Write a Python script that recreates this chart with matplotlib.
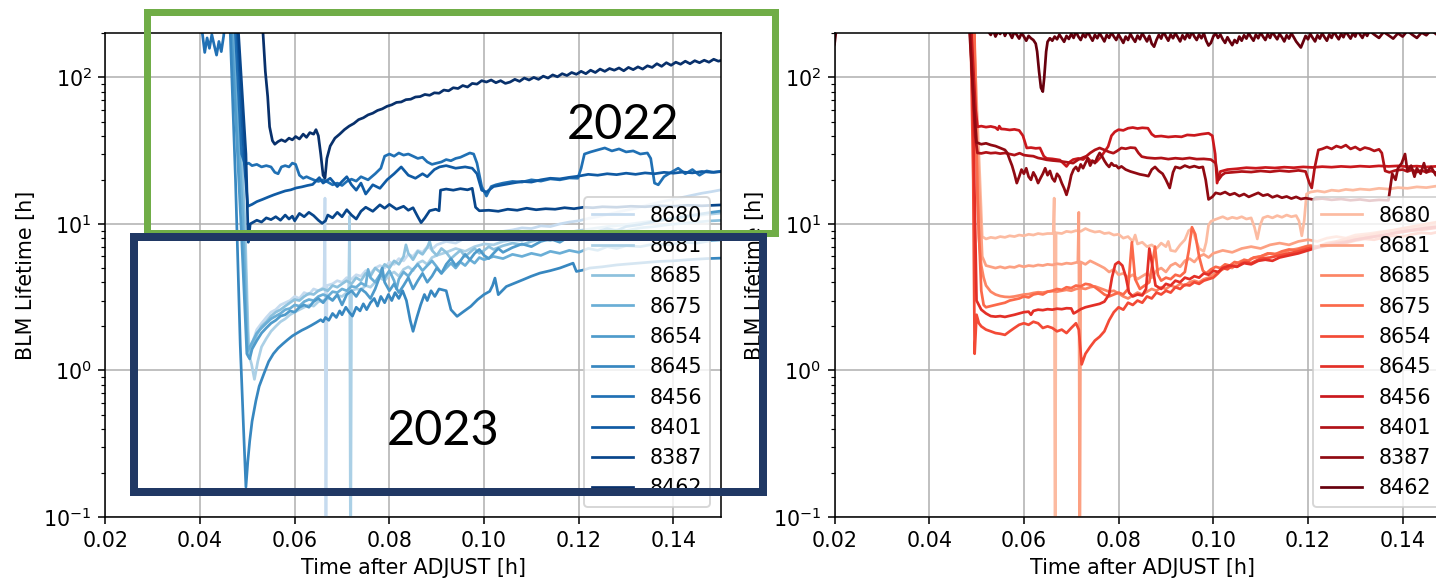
import matplotlib
matplotlib.use("Agg")
import matplotlib.pyplot as plt
import numpy as np
from matplotlib.patches import Rectangle

# Fill numbers, in legend order (light -> dark)
fills = ["8680", "8681", "8685", "8675", "8654", "8645", "8456", "8401", "8387", "8462"]
x_ticks = [0.02, 0.04, 0.06, 0.08, 0.10, 0.12, 0.14]

# ---------------- left monitor: (time after ADJUST [h], BLM lifetime [h]) ----------------
blue_8680 = [(0.0470, 300), (0.0490, 20), (0.0500, 2.0), (0.0505, 1.4), (0.0512, 1.6), (0.0520, 1.9), (0.0530, 2.1), (0.0540, 2.3), (0.0550, 2.5), (0.0560, 2.6), (0.0570, 2.8), (0.0580, 2.9), (0.0590, 3.0), (0.0600, 3.2), (0.0610, 3.1), (0.0620, 3.4), (0.0630, 3.3), (0.0640, 3.6), (0.0650, 3.5), (0.0662, 3.7), (0.0664, 15), (0.0666, 0.03), (0.0668, 3.8), (0.0680, 3.9), (0.0690, 4.1), (0.0700, 4.0), (0.0710, 4.3), (0.0720, 4.2), (0.0730, 4.5), (0.0740, 4.4), (0.0750, 4.8), (0.0760, 4.6), (0.0770, 5.0), (0.0780, 5.2), (0.0790, 5.0), (0.0800, 5.5), (0.0810, 5.3), (0.0820, 5.8), (0.0830, 5.6), (0.0840, 6.2), (0.0850, 6.0), (0.0860, 6.6), (0.0870, 6.4), (0.0880, 7.0), (0.0890, 6.7), (0.0900, 7.2), (0.0920, 7.6), (0.0940, 7.4), (0.0960, 8.0), (0.0980, 7.8), (0.1000, 8.4), (0.1020, 8.6), (0.1040, 8.9), (0.1060, 9.1), (0.1080, 9.4), (0.1100, 9.3), (0.1120, 9.7), (0.1140, 9.6), (0.1160, 10.0), (0.1180, 10.3), (0.1200, 10.5), (0.1220, 10.9), (0.1240, 11.2), (0.1260, 11.6), (0.1280, 12.0), (0.1300, 12.4), (0.1320, 12.8), (0.1340, 13.3), (0.1360, 13.8), (0.1380, 14.3), (0.1400, 14.7), (0.1420, 15.2), (0.1440, 15.7), (0.1460, 16.2), (0.1480, 16.6), (0.1505, 17.2)]
blue_8681 = [(0.0472, 300), (0.0495, 10), (0.0503, 1.3), (0.0509, 1.1), (0.0515, 0.87), (0.0522, 1.15), (0.0530, 1.45), (0.0540, 1.65), (0.0550, 1.85), (0.0560, 2.0), (0.0570, 2.15), (0.0580, 2.25), (0.0590, 2.4), (0.0600, 2.5), (0.0610, 2.6), (0.0620, 2.7), (0.0630, 2.8), (0.0640, 2.75), (0.0650, 2.95), (0.0660, 3.0), (0.0670, 3.1), (0.0680, 3.05), (0.0690, 3.25), (0.0700, 3.2), (0.0710, 3.4), (0.0714, 3.4), (0.0716, 11.3), (0.0718, 0.03), (0.0720, 3.5), (0.0730, 3.6), (0.0740, 3.55), (0.0750, 3.8), (0.0760, 3.7), (0.0770, 4.0), (0.0780, 4.3), (0.0790, 4.1), (0.0800, 4.5), (0.0810, 4.7), (0.0820, 4.4), (0.0830, 4.9), (0.0840, 5.1), (0.0850, 4.8), (0.0860, 5.4), (0.0870, 5.6), (0.0880, 5.3), (0.0890, 5.9), (0.0900, 6.1), (0.0920, 6.4), (0.0940, 6.8), (0.0960, 6.5), (0.0980, 7.0), (0.1000, 7.3), (0.1020, 7.2), (0.1040, 7.6), (0.1060, 7.8), (0.1080, 7.7), (0.1100, 8.1), (0.1120, 8.3), (0.1140, 8.2), (0.1160, 8.6), (0.1180, 8.8), (0.1200, 9.0), (0.1230, 9.3), (0.1260, 9.6), (0.1290, 9.8), (0.1320, 10.1), (0.1350, 10.4), (0.1380, 10.7), (0.1410, 11.0), (0.1440, 11.3), (0.1470, 11.6), (0.1505, 11.9)]
blue_8685 = [(0.0468, 300), (0.0492, 15), (0.0502, 1.25), (0.0510, 1.45), (0.0520, 1.75), (0.0530, 2.0), (0.0540, 2.15), (0.0550, 2.35), (0.0560, 2.5), (0.0570, 2.6), (0.0580, 2.75), (0.0590, 2.9), (0.0600, 3.05), (0.0610, 3.0), (0.0620, 3.2), (0.0630, 3.35), (0.0640, 3.3), (0.0650, 3.5), (0.0660, 3.6), (0.0670, 3.5), (0.0680, 3.8), (0.0690, 3.7), (0.0700, 3.9), (0.0710, 4.1), (0.0720, 3.9), (0.0730, 4.3), (0.0740, 4.1), (0.0750, 4.6), (0.0760, 4.4), (0.0770, 5.0), (0.0780, 4.7), (0.0790, 5.3), (0.0800, 5.0), (0.0810, 5.6), (0.0820, 5.3), (0.0830, 6.0), (0.0835, 7.2), (0.0840, 6.3), (0.0850, 5.7), (0.0860, 6.5), (0.0870, 6.2), (0.0880, 6.9), (0.0885, 7.6), (0.0890, 6.6), (0.0900, 6.1), (0.0910, 6.8), (0.0920, 6.4), (0.0930, 5.8), (0.0940, 6.2), (0.0950, 6.6), (0.0960, 6.0), (0.0970, 6.4), (0.0980, 6.8), (0.0990, 6.3), (0.1000, 6.6), (0.1010, 7.0), (0.1020, 6.7), (0.1040, 7.1), (0.1060, 7.4), (0.1080, 7.2), (0.1100, 7.6), (0.1120, 7.9), (0.1140, 7.7), (0.1160, 8.1), (0.1180, 8.0), (0.1200, 8.4), (0.1220, 8.7), (0.1240, 8.5), (0.1260, 8.9), (0.1280, 9.1), (0.1300, 9.0), (0.1330, 9.4), (0.1360, 9.6), (0.1390, 9.9), (0.1420, 10.1), (0.1450, 10.3), (0.1480, 10.5), (0.1505, 10.6)]
blue_8675 = [(0.0466, 300), (0.0490, 12), (0.0500, 1.35), (0.0510, 1.55), (0.0520, 1.8), (0.0530, 1.95), (0.0540, 2.1), (0.0550, 2.25), (0.0560, 2.35), (0.0570, 2.45), (0.0580, 2.6), (0.0590, 2.65), (0.0600, 2.8), (0.0610, 2.75), (0.0620, 2.95), (0.0630, 3.05), (0.0640, 3.0), (0.0650, 3.2), (0.0660, 3.3), (0.0670, 3.2), (0.0680, 3.45), (0.0690, 3.4), (0.0700, 3.6), (0.0710, 3.5), (0.0720, 3.75), (0.0730, 3.7), (0.0740, 3.95), (0.0750, 3.8), (0.0755, 4.9), (0.0760, 4.3), (0.0770, 4.0), (0.0780, 4.5), (0.0790, 4.3), (0.0800, 4.8), (0.0810, 4.1), (0.0815, 3.6), (0.0820, 4.2), (0.0830, 4.7), (0.0840, 4.4), (0.0850, 4.9), (0.0860, 5.3), (0.0870, 4.8), (0.0880, 5.2), (0.0890, 5.6), (0.0900, 5.1), (0.0910, 4.6), (0.0920, 5.0), (0.0930, 5.4), (0.0940, 5.0), (0.0950, 5.5), (0.0960, 5.2), (0.0970, 5.7), (0.0980, 5.4), (0.0990, 5.9), (0.1000, 5.7), (0.1020, 6.0), (0.1040, 5.8), (0.1060, 6.2), (0.1080, 6.0), (0.1100, 6.3), (0.1120, 6.1), (0.1140, 6.5), (0.1160, 6.3), (0.1180, 6.6), (0.1200, 6.4), (0.1220, 6.8), (0.1240, 6.6), (0.1260, 7.0), (0.1280, 6.8), (0.1300, 7.1), (0.1330, 7.0), (0.1360, 7.3), (0.1390, 7.2), (0.1420, 7.5), (0.1450, 7.4), (0.1480, 7.7), (0.1505, 7.8)]
blue_8654 = [(0.0464, 300), (0.0488, 8), (0.0499, 1.3), (0.0505, 1.2), (0.0510, 1.4), (0.0520, 1.6), (0.0530, 1.8), (0.0540, 1.95), (0.0550, 2.1), (0.0560, 2.2), (0.0570, 2.35), (0.0580, 2.4), (0.0590, 2.55), (0.0600, 2.5), (0.0610, 2.7), (0.0620, 2.8), (0.0630, 2.7), (0.0640, 2.95), (0.0650, 3.1), (0.0660, 2.9), (0.0670, 3.2), (0.0680, 3.0), (0.0690, 3.3), (0.0700, 2.8), (0.0710, 3.3), (0.0720, 3.5), (0.0730, 3.2), (0.0740, 3.6), (0.0750, 3.4), (0.0760, 3.1), (0.0770, 3.6), (0.0780, 4.4), (0.0785, 5.0), (0.0790, 4.0), (0.0800, 3.5), (0.0810, 3.9), (0.0820, 3.4), (0.0830, 3.8), (0.0840, 4.3), (0.0850, 3.6), (0.0860, 4.1), (0.0870, 4.6), (0.0880, 4.0), (0.0890, 4.4), (0.0900, 5.0), (0.0910, 4.6), (0.0920, 5.3), (0.0930, 5.8), (0.0940, 5.2), (0.0950, 5.6), (0.0960, 6.2), (0.0970, 5.7), (0.0980, 6.3), (0.0990, 6.7), (0.1000, 6.1), (0.1010, 5.8), (0.1020, 6.3), (0.1030, 6.8), (0.1040, 6.4), (0.1060, 6.9), (0.1080, 7.3), (0.1100, 7.0), (0.1120, 7.6), (0.1140, 7.9), (0.1160, 7.5), (0.1180, 8.2), (0.1200, 8.6), (0.1220, 8.3), (0.1240, 8.9), (0.1260, 9.3), (0.1280, 9.0), (0.1300, 9.6), (0.1330, 9.9), (0.1360, 10.4), (0.1390, 10.8), (0.1420, 11.2), (0.1450, 11.6), (0.1480, 12.0), (0.1505, 12.3)]
blue_8645 = [(0.0462, 300), (0.0475, 20), (0.0485, 1.5), (0.0492, 0.4), (0.0497, 0.16), (0.0501, 0.24), (0.0505, 0.33), (0.0510, 0.45), (0.0518, 0.62), (0.0525, 0.78), (0.0535, 0.95), (0.0545, 1.15), (0.0555, 1.3), (0.0565, 1.42), (0.0575, 1.52), (0.0585, 1.62), (0.0595, 1.72), (0.0605, 1.8), (0.0615, 1.88), (0.0625, 1.95), (0.0635, 2.03), (0.0645, 2.12), (0.0655, 2.22), (0.0660, 2.15), (0.0665, 2.3), (0.0672, 2.2), (0.0680, 2.45), (0.0688, 2.3), (0.0695, 2.55), (0.0700, 2.4), (0.0708, 2.7), (0.0715, 2.5), (0.0722, 2.35), (0.0730, 2.7), (0.0738, 2.55), (0.0745, 2.85), (0.0752, 2.6), (0.0760, 2.9), (0.0768, 3.1), (0.0775, 2.75), (0.0782, 3.2), (0.0790, 2.9), (0.0798, 3.3), (0.0805, 3.0), (0.0812, 3.4), (0.0820, 3.1), (0.0828, 3.5), (0.0836, 3.0), (0.0844, 2.2), (0.0850, 1.85), (0.0858, 2.3), (0.0866, 2.8), (0.0874, 3.3), (0.0880, 3.0), (0.0888, 3.5), (0.0896, 3.2), (0.0905, 3.6), (0.0920, 3.5), (0.0930, 2.6), (0.0943, 2.34), (0.0955, 2.5), (0.0972, 2.74), (0.0986, 3.04), (0.1000, 3.3), (0.1012, 3.47), (0.1018, 3.8), (0.1023, 4.27), (0.1030, 3.29), (0.1047, 3.74), (0.1065, 3.95), (0.1082, 4.16), (0.1100, 4.4), (0.1118, 4.62), (0.1140, 4.8), (0.1160, 5.0), (0.1188, 5.4), (0.1195, 4.74), (0.1210, 4.85), (0.1223, 5.0), (0.1250, 5.1), (0.1280, 5.25), (0.1310, 5.35), (0.1340, 5.45), (0.1370, 5.55), (0.1400, 5.6), (0.1430, 5.7), (0.1470, 5.8), (0.1505, 5.85)]
blue_8456 = [(0.0400, 300), (0.0405, 200), (0.0410, 148), (0.0415, 186), (0.0420, 158), (0.0425, 196), (0.0430, 166), (0.0435, 142), (0.0440, 176), (0.0445, 150), (0.0450, 192), (0.0455, 300), (0.0472, 300), (0.0488, 30), (0.0495, 25.5), (0.0503, 26), (0.0510, 25), (0.0520, 25.5), (0.0530, 24.5), (0.0540, 25), (0.0550, 24.5), (0.0558, 22.5), (0.0565, 22), (0.0572, 24.5), (0.0580, 25), (0.0588, 24.5), (0.0595, 26), (0.0602, 25.5), (0.0610, 21.5), (0.0618, 20.5), (0.0625, 21), (0.0632, 20.5), (0.0640, 20), (0.0650, 19.5), (0.0660, 20), (0.0670, 19.3), (0.0680, 18.5), (0.0690, 19), (0.0700, 18.3), (0.0710, 19.5), (0.0720, 20.2), (0.0730, 19.6), (0.0740, 21), (0.0755, 20), (0.0770, 22), (0.0782, 24), (0.0790, 29), (0.0800, 30), (0.0810, 29), (0.0820, 30.5), (0.0830, 29.5), (0.0840, 30), (0.0850, 29), (0.0860, 28), (0.0870, 28.5), (0.0880, 26.5), (0.0890, 25.5), (0.0900, 26), (0.0910, 26.5), (0.0920, 27.5), (0.0930, 27), (0.0940, 28), (0.0950, 28.5), (0.0960, 29.5), (0.0970, 30.5), (0.0978, 30), (0.0985, 26), (0.0995, 18), (0.1005, 15.5), (0.1015, 18), (0.1025, 18.5), (0.1040, 19), (0.1060, 19.5), (0.1080, 19.3), (0.1100, 20), (0.1120, 19.6), (0.1140, 20.3), (0.1160, 20), (0.1180, 20.6), (0.1198, 20.5), (0.1205, 24), (0.1212, 30), (0.1225, 31), (0.1240, 32), (0.1255, 33), (0.1270, 31.5), (0.1285, 32.5), (0.1300, 31), (0.1315, 31.5), (0.1330, 30), (0.1345, 30.5), (0.1352, 28), (0.1360, 19), (0.1368, 18.5), (0.1380, 21), (0.1395, 22.5), (0.1410, 24), (0.1425, 22), (0.1440, 23.5), (0.1455, 21.5), (0.1470, 23), (0.1485, 22.5), (0.1505, 23)]
blue_8401 = [(0.0476, 300), (0.0494, 25), (0.0501, 13.2), (0.0510, 13.6), (0.0520, 14.2), (0.0532, 14.7), (0.0545, 15.3), (0.0556, 15.8), (0.0568, 16.3), (0.0580, 16.8), (0.0592, 17.1), (0.0603, 17.6), (0.0615, 17.9), (0.0627, 18.3), (0.0638, 18.6), (0.0646, 19.8), (0.0652, 20.7), (0.0660, 19), (0.0675, 20.5), (0.0690, 18), (0.0700, 19.5), (0.0710, 21), (0.0720, 18.5), (0.0730, 17), (0.0740, 19), (0.0750, 16), (0.0765, 18.5), (0.0780, 17.5), (0.0795, 20), (0.0810, 22), (0.0825, 24.5), (0.0840, 21.5), (0.0855, 20.5), (0.0870, 22), (0.0880, 21), (0.0895, 23.5), (0.0906, 24.5), (0.0920, 25), (0.0940, 24), (0.0960, 24.5), (0.0975, 24), (0.0985, 22), (0.0995, 17), (0.1005, 16.5), (0.1020, 18), (0.1040, 18.5), (0.1060, 19), (0.1080, 19.5), (0.1100, 19.3), (0.1120, 20), (0.1140, 20.5), (0.1160, 20.3), (0.1180, 20.8), (0.1200, 21.2), (0.1220, 21.8), (0.1240, 21.5), (0.1260, 22), (0.1280, 21.7), (0.1300, 22.2), (0.1320, 21.8), (0.1340, 22.3), (0.1360, 22), (0.1380, 22.5), (0.1400, 22.2), (0.1420, 22.6), (0.1440, 22.3), (0.1460, 22.8), (0.1480, 22.5), (0.1505, 22.8)]
blue_8387 = [(0.0478, 300), (0.0497, 30), (0.0502, 7.5), (0.0506, 10), (0.0520, 10.6), (0.0530, 10.3), (0.0540, 11), (0.0550, 10.7), (0.0560, 11.2), (0.0570, 10.6), (0.0580, 11.5), (0.0588, 10.8), (0.0595, 11.3), (0.0600, 10.5), (0.0610, 11.8), (0.0620, 11.2), (0.0630, 12), (0.0640, 11.4), (0.0650, 10.6), (0.0658, 10.1), (0.0665, 10.5), (0.0670, 11.5), (0.0680, 11), (0.0690, 12), (0.0700, 11.2), (0.0710, 12.5), (0.0720, 11.5), (0.0730, 10.8), (0.0740, 12.2), (0.0750, 13), (0.0765, 12.2), (0.0780, 13.5), (0.0790, 12.8), (0.0800, 13.6), (0.0815, 12.6), (0.0830, 13.2), (0.0840, 12.4), (0.0850, 12.9), (0.0860, 11.2), (0.0867, 10.2), (0.0875, 11), (0.0885, 12.3), (0.0898, 12.6), (0.0905, 12.3), (0.0908, 17), (0.0920, 17.3), (0.0935, 17), (0.0950, 17.4), (0.0965, 17.1), (0.0975, 17.5), (0.0982, 13), (0.0990, 12.3), (0.1010, 12.4), (0.1030, 12.2), (0.1050, 12.6), (0.1070, 12.4), (0.1090, 12.8), (0.1110, 12.5), (0.1130, 12.7), (0.1150, 12.6), (0.1170, 12.9), (0.1190, 12.7), (0.1210, 13), (0.1230, 12.9), (0.1250, 13.1), (0.1280, 13), (0.1310, 13.2), (0.1340, 13.1), (0.1370, 13.3), (0.1400, 13.2), (0.1430, 13.4), (0.1460, 13.3), (0.1505, 13.5)]
blue_8462 = [(0.0460, 400), (0.0532, 230), (0.0538, 110), (0.0543, 74), (0.0547, 46), (0.0553, 37), (0.0558, 35), (0.0565, 36.5), (0.0572, 37.5), (0.0580, 36.5), (0.0588, 38.5), (0.0595, 37.5), (0.0602, 39.5), (0.0610, 38), (0.0618, 41), (0.0625, 39), (0.0632, 42), (0.0640, 41), (0.0645, 44), (0.0650, 40), (0.0655, 30), (0.0660, 21.5), (0.0664, 20.5), (0.0668, 28), (0.0675, 34), (0.0685, 38.5), (0.0695, 41), (0.0705, 44), (0.0715, 46.5), (0.0725, 48.5), (0.0735, 51.5), (0.0745, 53), (0.0755, 55.5), (0.0765, 57), (0.0775, 59.5), (0.0785, 61), (0.0795, 63.5), (0.0805, 65), (0.0815, 67.5), (0.0825, 68), (0.0835, 70.5), (0.0845, 71), (0.0855, 73.5), (0.0865, 74), (0.0875, 76.5), (0.0885, 75.5), (0.0895, 78.5), (0.0905, 78), (0.0915, 82), (0.0925, 81), (0.0935, 85), (0.0945, 84), (0.0955, 88), (0.0965, 86), (0.0975, 91), (0.0985, 90), (0.0995, 95), (0.1005, 93), (0.1015, 96), (0.1025, 92), (0.1035, 95), (0.1045, 91), (0.1055, 93), (0.1065, 97), (0.1075, 94), (0.1085, 99), (0.1095, 96), (0.1105, 100), (0.1115, 97), (0.1125, 102), (0.1135, 99), (0.1145, 104), (0.1155, 101), (0.1165, 106), (0.1175, 103), (0.1185, 108), (0.1195, 105), (0.1205, 110), (0.1215, 106), (0.1225, 112), (0.1235, 108), (0.1245, 114), (0.1255, 110), (0.1265, 115), (0.1275, 112), (0.1285, 116), (0.1295, 111), (0.1305, 117), (0.1315, 113), (0.1325, 118), (0.1335, 114), (0.1345, 120), (0.1355, 117), (0.1365, 124), (0.1375, 119), (0.1385, 126), (0.1395, 121), (0.1405, 127), (0.1415, 123), (0.1425, 129), (0.1435, 124), (0.1445, 130), (0.1455, 126), (0.1465, 131), (0.1475, 127), (0.1485, 133), (0.1495, 129), (0.1505, 132)]

# ---------------- right monitor ----------------
red_8680 = [(0.0490, 400), (0.0505, 30), (0.0512, 8.2), (0.0520, 7.9), (0.0530, 8.1), (0.0540, 8.0), (0.0550, 8.2), (0.0560, 8.1), (0.0570, 8.3), (0.0580, 8.2), (0.0590, 8.4), (0.0600, 8.3), (0.0610, 8.5), (0.0620, 8.4), (0.0630, 8.6), (0.0640, 8.5), (0.0650, 8.6), (0.0662, 8.6), (0.0664, 15), (0.0666, 0.03), (0.0668, 8.7), (0.0680, 8.6), (0.0690, 8.9), (0.0700, 8.8), (0.0710, 9.0), (0.0720, 8.9), (0.0730, 9.3), (0.0740, 9.0), (0.0750, 8.8), (0.0760, 8.9), (0.0770, 8.6), (0.0780, 8.7), (0.0790, 8.4), (0.0800, 8.5), (0.0810, 8.0), (0.0820, 8.2), (0.0830, 7.6), (0.0835, 8.4), (0.0840, 7.3), (0.0850, 7.5), (0.0860, 7.0), (0.0870, 7.2), (0.0880, 6.8), (0.0890, 7.4), (0.0900, 7.0), (0.0905, 7.6), (0.0910, 6.6), (0.0920, 6.5), (0.0930, 7.2), (0.0940, 7.8), (0.0948, 9.0), (0.0955, 9.3), (0.0962, 8.0), (0.0970, 6.8), (0.0980, 6.5), (0.0985, 7.5), (0.0990, 9.8), (0.0995, 10.4), (0.1000, 10.6), (0.1010, 10.9), (0.1020, 11.2), (0.1030, 10.8), (0.1040, 11.1), (0.1050, 10.9), (0.1060, 11.2), (0.1070, 10.8), (0.1080, 11.0), (0.1087, 9.5), (0.1093, 7.9), (0.1099, 9.8), (0.1105, 11.0), (0.1115, 11.3), (0.1125, 11.0), (0.1135, 11.4), (0.1145, 11.1), (0.1155, 11.5), (0.1165, 11.2), (0.1175, 11.4), (0.1181, 10.5), (0.1187, 8.3), (0.1192, 10.5), (0.1197, 16), (0.1205, 16.5), (0.1220, 16.8), (0.1235, 16.5), (0.1250, 17.0), (0.1265, 16.8), (0.1280, 17.2), (0.1295, 17.0), (0.1310, 17.3), (0.1330, 17.1), (0.1350, 17.5), (0.1370, 17.3), (0.1390, 17.7), (0.1410, 17.5), (0.1430, 17.9), (0.1450, 17.7), (0.1470, 18.1), (0.1490, 17.9), (0.1505, 18.1)]
red_8681 = [(0.0492, 400), (0.0505, 20), (0.0512, 6.0), (0.0520, 5.2), (0.0530, 5.1), (0.0540, 5.0), (0.0550, 5.1), (0.0560, 5.0), (0.0570, 5.1), (0.0580, 5.05), (0.0590, 5.2), (0.0600, 5.1), (0.0610, 5.2), (0.0620, 5.15), (0.0630, 5.25), (0.0640, 5.2), (0.0650, 5.3), (0.0660, 5.25), (0.0670, 5.35), (0.0680, 5.3), (0.0690, 5.4), (0.0700, 5.35), (0.0710, 5.45), (0.0714, 5.5), (0.0716, 12), (0.0718, 0.03), (0.0720, 5.5), (0.0730, 5.3), (0.0740, 5.6), (0.0750, 5.4), (0.0760, 5.2), (0.0770, 5.0), (0.0780, 4.7), (0.0790, 4.9), (0.0800, 4.5), (0.0810, 4.6), (0.0820, 4.3), (0.0830, 4.5), (0.0840, 4.2), (0.0850, 4.4), (0.0860, 4.6), (0.0870, 4.3), (0.0880, 4.8), (0.0890, 5.0), (0.0900, 4.7), (0.0910, 5.2), (0.0920, 5.4), (0.0930, 5.1), (0.0940, 5.6), (0.0950, 5.8), (0.0960, 5.5), (0.0970, 6.0), (0.0980, 6.2), (0.0990, 5.9), (0.1000, 6.3), (0.1020, 6.6), (0.1040, 6.4), (0.1060, 6.8), (0.1080, 7.0), (0.1100, 6.8), (0.1120, 7.2), (0.1140, 7.4), (0.1160, 7.2), (0.1180, 7.6), (0.1200, 7.8), (0.1220, 7.6), (0.1240, 8.0), (0.1260, 8.2), (0.1280, 8.0), (0.1300, 8.4), (0.1330, 8.6), (0.1360, 8.9), (0.1390, 9.1), (0.1420, 9.4), (0.1450, 9.6), (0.1480, 9.9), (0.1505, 10.1)]
red_8685 = [(0.0493, 400), (0.0500, 30), (0.0505, 8), (0.0510, 5.2), (0.0515, 4.3), (0.0520, 3.8), (0.0530, 3.45), (0.0540, 3.3), (0.0550, 3.22), (0.0560, 3.18), (0.0570, 3.17), (0.0580, 3.2), (0.0590, 3.25), (0.0600, 3.3), (0.0610, 3.32), (0.0620, 3.38), (0.0630, 3.42), (0.0640, 3.4), (0.0650, 3.45), (0.0660, 3.48), (0.0670, 3.45), (0.0680, 3.5), (0.0690, 3.55), (0.0700, 3.5), (0.0710, 3.6), (0.0720, 3.65), (0.0730, 3.6), (0.0740, 3.7), (0.0750, 3.75), (0.0760, 3.65), (0.0770, 3.55), (0.0780, 3.45), (0.0790, 3.5), (0.0800, 3.35), (0.0810, 3.2), (0.0820, 3.1), (0.0830, 3.25), (0.0840, 3.4), (0.0850, 3.3), (0.0860, 3.45), (0.0870, 3.6), (0.0880, 3.5), (0.0890, 3.7), (0.0900, 3.6), (0.0910, 3.8), (0.0920, 3.7), (0.0930, 3.9), (0.0940, 3.8), (0.0950, 4.0), (0.0960, 4.1), (0.0970, 4.0), (0.0980, 4.2), (0.0990, 4.3), (0.1000, 4.5), (0.1010, 4.7), (0.1020, 4.9), (0.1030, 5.1), (0.1040, 5.0), (0.1050, 5.4), (0.1060, 5.6), (0.1070, 5.5), (0.1080, 5.8), (0.1100, 6.0), (0.1120, 6.3), (0.1140, 6.2), (0.1160, 6.6), (0.1180, 6.8), (0.1200, 7.1), (0.1220, 7.0), (0.1240, 7.4), (0.1260, 7.6), (0.1280, 7.9), (0.1300, 8.1), (0.1330, 8.4), (0.1360, 8.8), (0.1390, 9.2), (0.1420, 9.6), (0.1450, 10.0), (0.1480, 10.4), (0.1505, 10.8)]
red_8675 = [(0.0494, 400), (0.0502, 15), (0.0510, 3.5), (0.0515, 2.8), (0.0520, 2.7), (0.0530, 2.75), (0.0540, 2.8), (0.0550, 2.85), (0.0560, 2.9), (0.0570, 3.0), (0.0580, 3.05), (0.0590, 3.1), (0.0600, 3.2), (0.0610, 3.15), (0.0620, 3.3), (0.0630, 3.35), (0.0640, 3.3), (0.0650, 3.45), (0.0660, 3.5), (0.0670, 3.6), (0.0680, 3.55), (0.0690, 3.7), (0.0700, 3.65), (0.0710, 3.8), (0.0720, 3.75), (0.0730, 3.9), (0.0740, 3.85), (0.0750, 3.7), (0.0760, 3.5), (0.0770, 3.3), (0.0780, 3.2), (0.0790, 3.3), (0.0800, 3.4), (0.0810, 3.3), (0.0820, 3.6), (0.0828, 7.5), (0.0835, 4.2), (0.0845, 3.6), (0.0855, 3.8), (0.0865, 4.0), (0.0872, 5.5), (0.0877, 7.0), (0.0883, 4.5), (0.0890, 4.1), (0.0900, 4.3), (0.0910, 4.2), (0.0920, 4.5), (0.0930, 4.4), (0.0940, 4.7), (0.0948, 6.5), (0.0955, 9.5), (0.0962, 8.5), (0.0970, 6.0), (0.0978, 4.8), (0.0985, 4.6), (0.0995, 4.9), (0.1005, 5.1), (0.1015, 5.0), (0.1025, 5.3), (0.1035, 5.2), (0.1045, 5.5), (0.1055, 5.4), (0.1065, 5.7), (0.1075, 5.6), (0.1085, 5.9), (0.1100, 6.0), (0.1115, 6.3), (0.1130, 6.2), (0.1145, 6.5), (0.1160, 6.7), (0.1175, 6.6), (0.1190, 6.9), (0.1205, 7.1), (0.1220, 7.0), (0.1240, 7.3), (0.1260, 7.5), (0.1280, 7.4), (0.1300, 7.7), (0.1320, 7.9), (0.1340, 7.8), (0.1360, 8.1), (0.1380, 8.3), (0.1400, 8.2), (0.1420, 8.5), (0.1440, 8.7), (0.1460, 8.6), (0.1480, 8.9), (0.1505, 9.1)]
red_8654 = [(0.0486, 400), (0.0493, 20), (0.0496, 1.3), (0.0500, 2.4), (0.0505, 2.1), (0.0510, 2.0), (0.0520, 1.9), (0.0530, 1.85), (0.0540, 1.8), (0.0550, 1.78), (0.0560, 1.75), (0.0570, 1.85), (0.0580, 1.95), (0.0590, 2.05), (0.0600, 2.1), (0.0610, 2.05), (0.0620, 2.15), (0.0630, 2.1), (0.0640, 1.95), (0.0650, 2.0), (0.0660, 1.95), (0.0670, 1.85), (0.0680, 1.9), (0.0690, 1.8), (0.0700, 1.95), (0.0710, 2.1), (0.0716, 1.9), (0.0722, 1.1), (0.0730, 1.3), (0.0740, 1.45), (0.0750, 1.6), (0.0760, 1.7), (0.0770, 1.85), (0.0780, 2.2), (0.0790, 2.5), (0.0800, 2.7), (0.0810, 2.6), (0.0820, 2.9), (0.0830, 2.8), (0.0840, 3.0), (0.0850, 2.9), (0.0860, 3.2), (0.0870, 3.1), (0.0880, 3.4), (0.0890, 3.3), (0.0900, 3.5), (0.0910, 3.4), (0.0920, 3.7), (0.0930, 3.6), (0.0940, 3.85), (0.0950, 3.8), (0.0960, 4.0), (0.0970, 3.9), (0.0980, 4.1), (0.0990, 4.2), (0.1000, 4.3), (0.1010, 4.6), (0.1020, 5.0), (0.1030, 4.9), (0.1040, 5.2), (0.1050, 5.1), (0.1060, 5.4), (0.1070, 5.5), (0.1080, 5.4), (0.1090, 5.6), (0.1100, 5.8), (0.1120, 5.9), (0.1140, 6.1), (0.1160, 6.3), (0.1180, 6.5), (0.1200, 6.8), (0.1220, 7.0), (0.1240, 7.2), (0.1260, 7.4), (0.1280, 7.6), (0.1300, 7.8), (0.1330, 8.1), (0.1360, 8.4), (0.1390, 8.7), (0.1420, 9.0), (0.1450, 9.2), (0.1480, 9.5), (0.1505, 9.7)]
red_8645 = [(0.0488, 400), (0.0496, 15), (0.0500, 3.0), (0.0510, 2.6), (0.0520, 2.45), (0.0530, 2.35), (0.0540, 2.33), (0.0550, 2.35), (0.0560, 2.32), (0.0570, 2.36), (0.0580, 2.4), (0.0590, 2.45), (0.0600, 2.5), (0.0610, 2.52), (0.0615, 2.4), (0.0620, 2.55), (0.0630, 2.6), (0.0640, 2.58), (0.0650, 2.62), (0.0660, 2.6), (0.0670, 2.64), (0.0680, 2.62), (0.0690, 2.66), (0.0700, 2.65), (0.0705, 2.45), (0.0710, 2.5), (0.0720, 2.62), (0.0730, 2.7), (0.0740, 2.75), (0.0750, 2.8), (0.0760, 2.85), (0.0770, 2.95), (0.0780, 3.3), (0.0786, 4.3), (0.0793, 5.3), (0.0800, 5.5), (0.0808, 5.2), (0.0815, 4.4), (0.0822, 3.4), (0.0830, 3.2), (0.0840, 3.3), (0.0850, 3.25), (0.0858, 3.6), (0.0865, 6.8), (0.0870, 5.5), (0.0878, 3.8), (0.0890, 3.6), (0.0900, 3.9), (0.0910, 3.8), (0.0920, 4.1), (0.0930, 4.0), (0.0940, 4.3), (0.0950, 4.2), (0.0960, 4.4), (0.0970, 4.3), (0.0980, 4.6), (0.0990, 4.5), (0.1000, 4.8), (0.1010, 4.7), (0.1020, 5.0), (0.1035, 5.2), (0.1050, 5.1), (0.1065, 5.4), (0.1080, 5.3), (0.1095, 5.6), (0.1110, 5.7), (0.1125, 5.6), (0.1140, 5.9), (0.1160, 6.1), (0.1180, 6.3), (0.1200, 6.6), (0.1220, 6.9), (0.1240, 7.1), (0.1260, 7.3), (0.1280, 7.5), (0.1300, 7.8), (0.1330, 8.1), (0.1360, 8.4), (0.1390, 8.8), (0.1420, 9.1), (0.1450, 9.4), (0.1480, 9.6), (0.1505, 9.8)]
red_8456 = [(0.0484, 400), (0.0498, 60), (0.0502, 46), (0.0510, 46.5), (0.0520, 45.8), (0.0530, 46.3), (0.0540, 45.5), (0.0545, 44), (0.0548, 46.5), (0.0552, 44.5), (0.0560, 44.3), (0.0570, 43.8), (0.0580, 44.2), (0.0590, 43.5), (0.0598, 40), (0.0606, 33), (0.0615, 33.2), (0.0625, 32.8), (0.0634, 33), (0.0642, 29), (0.0648, 28), (0.0660, 27.8), (0.0676, 27.3), (0.0683, 26), (0.0690, 24.7), (0.0697, 26.5), (0.0704, 27.5), (0.0715, 28), (0.0725, 27.5), (0.0732, 28.8), (0.0740, 27), (0.0753, 26.5), (0.0762, 28.5), (0.0770, 31), (0.0778, 33.8), (0.0785, 40), (0.0792, 42.5), (0.0800, 44), (0.0810, 43.5), (0.0820, 45), (0.0830, 45.5), (0.0840, 44.8), (0.0850, 45.3), (0.0862, 45), (0.0870, 41), (0.0877, 39.5), (0.0890, 39.8), (0.0905, 39.2), (0.0920, 39.6), (0.0933, 39.3), (0.0945, 40.5), (0.0960, 40.2), (0.0975, 41), (0.0990, 41.6), (0.0998, 40), (0.1004, 30), (0.1008, 19), (0.1015, 22.8), (0.1030, 23.5), (0.1050, 23.8), (0.1070, 24.2), (0.1090, 24.0), (0.1110, 24.3), (0.1130, 24.1), (0.1150, 24.4), (0.1170, 24.2), (0.1190, 24.5), (0.1210, 24.3), (0.1230, 24.6), (0.1250, 24.4), (0.1270, 24.7), (0.1290, 24.5), (0.1310, 24.8), (0.1330, 24.6), (0.1350, 24.9), (0.1370, 24.7), (0.1390, 24.9), (0.1410, 24.6), (0.1430, 24.8), (0.1450, 24.5), (0.1470, 24.7), (0.1505, 24.6)]
red_8401 = [(0.0482, 400), (0.0497, 40), (0.0502, 30.5), (0.0510, 30.3), (0.0520, 30.8), (0.0530, 30.4), (0.0540, 30.6), (0.0550, 30.2), (0.0560, 30.5), (0.0570, 30.0), (0.0580, 29.5), (0.0591, 30.4), (0.0600, 29.5), (0.0610, 29.2), (0.0620, 29), (0.0630, 28.2), (0.0640, 27.8), (0.0648, 27.4), (0.0660, 27.1), (0.0676, 26.8), (0.0690, 26.4), (0.0704, 26), (0.0715, 27.5), (0.0725, 28.4), (0.0732, 29), (0.0740, 30.5), (0.0750, 32), (0.0760, 33), (0.0770, 32), (0.0780, 31), (0.0789, 30.4), (0.0797, 31.5), (0.0806, 33), (0.0815, 32.6), (0.0825, 33.2), (0.0835, 33), (0.0842, 30.5), (0.0849, 28.8), (0.0860, 28.3), (0.0877, 28), (0.0890, 28.2), (0.0905, 27.7), (0.0920, 28.1), (0.0935, 27.8), (0.0950, 28.2), (0.0965, 27.7), (0.0980, 27.8), (0.0995, 27.5), (0.1005, 26), (0.1011, 20), (0.1018, 21.5), (0.1025, 22.3), (0.1040, 22.5), (0.1060, 22.8), (0.1080, 22.6), (0.1100, 23), (0.1120, 22.7), (0.1140, 23.1), (0.1160, 22.8), (0.1180, 23.2), (0.1195, 22.8), (0.1203, 19), (0.1208, 17.6), (0.1214, 24), (0.1222, 32), (0.1230, 32.5), (0.1240, 33.5), (0.1250, 32.5), (0.1260, 34), (0.1270, 33.2), (0.1280, 34.5), (0.1290, 32.5), (0.1300, 33.5), (0.1310, 32), (0.1320, 33.2), (0.1330, 32.6), (0.1340, 31.5), (0.1350, 32.3), (0.1356, 30.5), (0.1363, 23), (0.1372, 22.5), (0.1385, 23.2), (0.1400, 23.5), (0.1410, 22.8), (0.1420, 23.4), (0.1430, 22.6), (0.1440, 23.2), (0.1450, 22.5), (0.1460, 23.0), (0.1470, 22.4), (0.1480, 22.9), (0.1490, 22.3), (0.1505, 22.7)]
red_8387 = [(0.0480, 400), (0.0495, 60), (0.0500, 36), (0.0510, 35), (0.0520, 35.5), (0.0530, 34.6), (0.0540, 34), (0.0550, 33), (0.0560, 32), (0.0565, 30.5), (0.0570, 27.5), (0.0575, 25), (0.0580, 22), (0.0585, 19), (0.0590, 21), (0.0595, 23.5), (0.0600, 22), (0.0605, 24), (0.0610, 21), (0.0615, 20), (0.0620, 22.5), (0.0625, 21), (0.0630, 19), (0.0635, 20.5), (0.0640, 22), (0.0645, 24), (0.0650, 21.5), (0.0655, 23), (0.0660, 20.5), (0.0665, 19.5), (0.0670, 22), (0.0675, 21), (0.0680, 19), (0.0685, 17.5), (0.0690, 15.8), (0.0695, 18), (0.0700, 21.5), (0.0705, 23.5), (0.0710, 24.5), (0.0715, 23), (0.0720, 25.5), (0.0725, 24), (0.0730, 26), (0.0735, 28), (0.0740, 25), (0.0745, 27), (0.0750, 26), (0.0755, 28.5), (0.0760, 30.5), (0.0765, 29), (0.0770, 27), (0.0775, 25.5), (0.0780, 24.5), (0.0785, 26), (0.0790, 25), (0.0795, 25), (0.0800, 24), (0.0806, 24.7), (0.0815, 23.5), (0.0825, 22.8), (0.0835, 22.3), (0.0845, 21.8), (0.0855, 21.5), (0.0863, 21.2), (0.0870, 23.5), (0.0877, 24.5), (0.0885, 23), (0.0893, 22), (0.0900, 20), (0.0908, 17.6), (0.0915, 22.5), (0.0920, 24.5), (0.0930, 24), (0.0940, 25), (0.0950, 24.3), (0.0960, 24.8), (0.0970, 24.2), (0.0978, 24.5), (0.0984, 20), (0.0990, 14.7), (0.0998, 15.3), (0.1005, 16.3), (0.1015, 16), (0.1025, 16.5), (0.1035, 15.8), (0.1045, 16.2), (0.1055, 15.5), (0.1065, 16), (0.1075, 15.3), (0.1085, 15.8), (0.1095, 16.3), (0.1105, 15.6), (0.1115, 15.9), (0.1125, 15.2), (0.1135, 15.6), (0.1145, 15.1), (0.1155, 15.4), (0.1165, 14.9), (0.1175, 15.3), (0.1185, 14.8), (0.1195, 15.0), (0.1210, 14.7), (0.1230, 14.9), (0.1250, 14.6), (0.1270, 14.8), (0.1290, 14.5), (0.1310, 14.7), (0.1330, 14.4), (0.1350, 14.6), (0.1370, 14.5), (0.1378, 22), (0.1385, 20), (0.1390, 24), (0.1398, 26), (0.1405, 30), (0.1410, 23), (0.1418, 25), (0.1425, 21), (0.1430, 24), (0.1438, 22), (0.1445, 26), (0.1450, 22.5), (0.1460, 24.5), (0.1470, 21.5), (0.1480, 23.5), (0.1490, 22), (0.1505, 23)]
red_8462 = [(0.0190, 140), (0.0200, 168), (0.0205, 230), (0.0210, 400), (0.0515, 400), (0.0525, 205), (0.0530, 195), (0.0535, 210), (0.0540, 190), (0.0545, 205), (0.0550, 198), (0.0555, 215), (0.0560, 192), (0.0565, 208), (0.0570, 200), (0.0575, 186), (0.0580, 205), (0.0585, 195), (0.0590, 184), (0.0595, 200), (0.0600, 190), (0.0605, 178), (0.0610, 192), (0.0615, 185), (0.0620, 180), (0.0625, 170), (0.0628, 150), (0.0632, 110), (0.0636, 85), (0.0640, 80), (0.0643, 100), (0.0647, 150), (0.0650, 175), (0.0655, 185), (0.0660, 178), (0.0665, 190), (0.0670, 182), (0.0675, 196), (0.0680, 185), (0.0685, 175), (0.0690, 192), (0.0695, 183), (0.0700, 198), (0.0705, 186), (0.0710, 205), (0.0715, 190), (0.0720, 180), (0.0725, 197), (0.0730, 188), (0.0735, 205), (0.0740, 190), (0.0745, 178), (0.0750, 195), (0.0755, 185), (0.0760, 200), (0.0765, 188), (0.0770, 176), (0.0775, 195), (0.0780, 186), (0.0785, 202), (0.0790, 190), (0.0795, 180), (0.0800, 196), (0.0805, 184), (0.0810, 172), (0.0815, 190), (0.0820, 180), (0.0825, 198), (0.0830, 185), (0.0835, 175), (0.0840, 193), (0.0845, 182), (0.0850, 200), (0.0855, 188), (0.0860, 176), (0.0865, 192), (0.0870, 170), (0.0875, 162), (0.0880, 180), (0.0885, 195), (0.0890, 184), (0.0895, 205), (0.0900, 190), (0.0905, 178), (0.0910, 196), (0.0915, 185), (0.0920, 200), (0.0925, 188), (0.0930, 176), (0.0935, 194), (0.0940, 182), (0.0945, 198), (0.0950, 186), (0.0955, 205), (0.0960, 190), (0.0965, 180), (0.0970, 196), (0.0975, 185), (0.0980, 200), (0.0985, 178), (0.0990, 165), (0.0995, 172), (0.1000, 190), (0.1005, 200), (0.1010, 186), (0.1015, 196), (0.1020, 182), (0.1025, 172), (0.1030, 188), (0.1035, 176), (0.1040, 166), (0.1045, 180), (0.1050, 172), (0.1055, 190), (0.1060, 178), (0.1065, 194), (0.1070, 184), (0.1075, 200), (0.1080, 188), (0.1085, 178), (0.1090, 196), (0.1095, 185), (0.1100, 202), (0.1105, 190), (0.1110, 180), (0.1115, 197), (0.1120, 186), (0.1125, 204), (0.1130, 192), (0.1135, 182), (0.1140, 198), (0.1145, 188), (0.1150, 176), (0.1155, 194), (0.1160, 184), (0.1165, 200), (0.1170, 188), (0.1175, 176), (0.1180, 168), (0.1185, 160), (0.1190, 175), (0.1195, 192), (0.1200, 182), (0.1205, 198), (0.1210, 186), (0.1215, 176), (0.1220, 194), (0.1225, 184), (0.1230, 200), (0.1235, 188), (0.1240, 178), (0.1245, 196), (0.1250, 186), (0.1255, 205), (0.1260, 192), (0.1265, 182), (0.1270, 198), (0.1275, 188), (0.1280, 206), (0.1285, 194), (0.1290, 184), (0.1295, 200), (0.1300, 190), (0.1305, 210), (0.1310, 196), (0.1315, 186), (0.1320, 202), (0.1325, 192), (0.1330, 208), (0.1340, 196), (0.1350, 186), (0.1360, 204), (0.1370, 194), (0.1380, 184), (0.1390, 200), (0.1400, 190), (0.1410, 208), (0.1420, 196), (0.1430, 186), (0.1440, 202), (0.1450, 194), (0.1460, 210), (0.1470, 198), (0.1480, 188), (0.1490, 204), (0.1505, 196)]

blue_series = [blue_8680, blue_8681, blue_8685, blue_8675, blue_8654,
               blue_8645, blue_8456, blue_8401, blue_8387, blue_8462]
red_series = [red_8680, red_8681, red_8685, red_8675, red_8654,
              red_8645, red_8456, red_8401, red_8387, red_8462]

plt.rcParams["font.size"] = 10.6

W, H, DPI = 1436, 581, 140
fig = plt.figure(figsize=(W / DPI, H / DPI), dpi=DPI)


def px_box(left, top, right, bottom):
    """Axes box from pixel edges (origin top-left)."""
    return [left / W, 1 - bottom / H, (right - left) / W, (bottom - top) / H]


ax_l = fig.add_axes(px_box(105.3, 33.3, 720.8, 517.0))
ax_r = fig.add_axes(px_box(834.5, 33.3, 1450.0, 517.0))

for ax, series, cmap in ((ax_l, blue_series, plt.cm.Blues),
                         (ax_r, red_series, plt.cm.Reds)):
    colors = cmap(np.linspace(0.25, 1.0, len(fills)))
    for name, pts, c in zip(fills, series, colors):
        arr = np.array(pts, dtype=float)
        ax.plot(arr[:, 0], arr[:, 1], color=c, lw=1.4, label=name)
    ax.set_yscale("log")
    ax.set_xlim(0.02, 0.15)
    ax.set_ylim(0.1, 200)
    ax.set_xticks(x_ticks)
    ax.grid(True, which="major", color="#b0b0b0", lw=0.8)
    ax.set_xlabel("Time after ADJUST [h]")
    ax.set_ylabel("BLM Lifetime [h]")
    ax.legend(loc="lower right")

# year annotations
green = Rectangle((146.5 / W, 1 - 232.5 / H), (774.5 - 146.5) / W, (232.5 - 11.5) / H,
                  transform=fig.transFigure, fill=False, ec="#70AD47",
                  lw=7 * 72 / DPI, joinstyle="miter", zorder=5)
navy = Rectangle((134.0 / W, 1 - 492.0 / H), (763.0 - 134.0) / W, (492.0 - 236.5) / H,
                 transform=fig.transFigure, fill=False, ec="#203864",
                 lw=8 * 72 / DPI, joinstyle="miter", zorder=6)
fig.add_artist(green)
fig.add_artist(navy)
fig.text(623.5 / W, 1 - 139.0 / H, "2022", ha="center", va="baseline",
         fontsize=25, family=["Lato", "DejaVu Sans"], color="black", zorder=7)
fig.text(443.5 / W, 1 - 445.0 / H, "2023", ha="center", va="baseline",
         fontsize=25, family=["Lato", "DejaVu Sans"], color="black", zorder=7)

fig.savefig("out.png", dpi=DPI, facecolor="white")
